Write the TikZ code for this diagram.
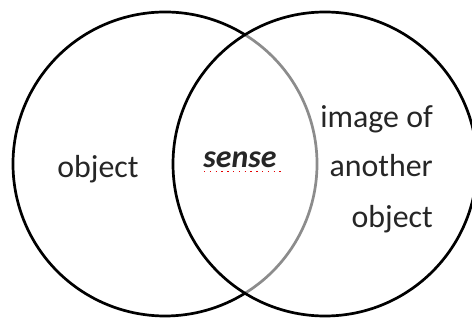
\documentclass[tikz,border=0pt]{standalone}
\usepackage{fontspec}
\setmainfont{Carlito}
\begin{document}
\begin{tikzpicture}[x=1bp,y=1bp,
  ring/.style={line width=2.7bp,draw=black},
  ringgrey/.style={line width=2.7bp,draw=black!45},
  lbl/.style={font=\fontsize{32}{40}\selectfont,inner sep=0pt,text=black!85}]
\useasboundingbox (0,0) rectangle (472,320);
\fill[white] (0,0) rectangle (472,320);
\coordinate (cl) at (165,156);
\coordinate (cr) at (325,156);
% left circle: black outside, grey arc inside right circle
\draw[ring] ([shift={(58.2:152)}]cl) arc[start angle=58.2,end angle=301.8,radius=152];
\draw[ringgrey] ([shift={(-58.2:152)}]cl) arc[start angle=-58.2,end angle=58.2,radius=152];
% right circle
\draw[ring] (cr) circle[radius=152];
% labels
\node[lbl,anchor=base] (obj) at (98,143) {object};
\node[lbl,anchor=base,font=\fontsize{32}{40}\selectfont\bfseries\itshape] (sense) at (240,153) {sense};
\draw[red!90!black,line width=1.3bp,dash pattern=on 1.4bp off 4.4bp] ([xshift=-36bp,yshift=-4.5bp]sense.base) -- ([xshift=43bp,yshift=-4.5bp]sense.base);
\node[lbl,anchor=base east] (img) at (433,193) {image of};
\node[lbl,anchor=base east] (ano) at (433,144) {another};
\node[lbl,anchor=base east] (obj2) at (433,93) {object};
\end{tikzpicture}
\end{document}
